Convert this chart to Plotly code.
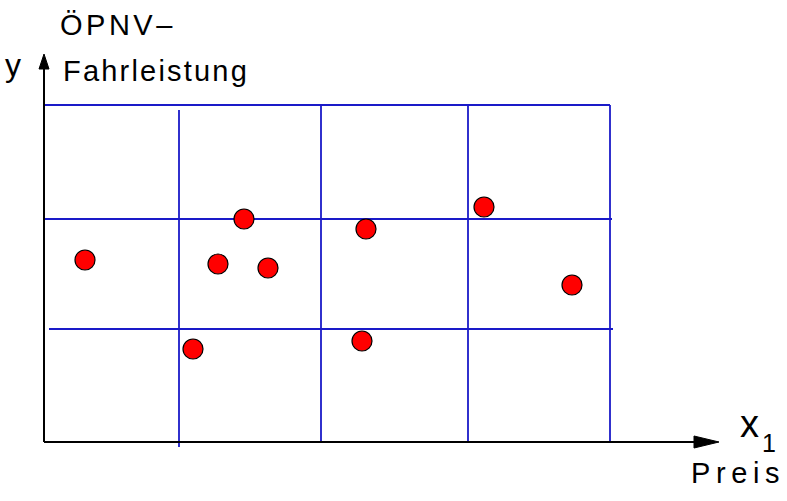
import plotly.graph_objects as go

# ---- data (chart units, origin at the axis crossing) ----
point_x = [41, 174, 224, 200, 149, 322, 440, 528, 318]
point_y = [182, 178, 174, 223, 93, 213, 235, 157, 101]

# blue grid lines
h_lines_y = [337, 223, 113]
h_lines_x0 = [1, 1, 5]
h_lines_x1 = [566, 568, 569]
v_lines_x = [135, 277, 424, 566]
v_lines_y0 = [-5, 0, 0, 0]
v_lines_y1 = [332, 337, 337, 337]

# axes
x_axis_end = 675
y_axis_end = 388

# labels
y_label = "y"
y_title_1 = "ÖPNV–"
y_title_2 = "Fahrleistung"
x_label = "x"
x_sub = "1"
x_title = "Preis"

BLUE = "#1a1ac8"
FONT = "Liberation Sans, Arial, Helvetica, sans-serif"

fig = go.Figure()

# grid lines
gx, gy = [], []
for y, x0, x1 in zip(h_lines_y, h_lines_x0, h_lines_x1):
    gx += [x0, x1, None]
    gy += [y, y, None]
for x, y0, y1 in zip(v_lines_x, v_lines_y0, v_lines_y1):
    gx += [x, x, None]
    gy += [y0, y1, None]
fig.add_trace(go.Scatter(x=gx, y=gy, mode="lines",
                         line=dict(color=BLUE, width=1.8),
                         hoverinfo="skip", showlegend=False))

# axes with arrowheads
ah_y_len, ah_y_half = 15, 5
ah_x_len, ah_x_half = 25, 6
fig.add_trace(go.Scatter(x=[0, 0, None, 0, x_axis_end - ah_x_len],
                         y=[0, y_axis_end - ah_y_len, None, 0, 0],
                         mode="lines", line=dict(color="black", width=2),
                         hoverinfo="skip", showlegend=False))
fig.add_trace(go.Scatter(
    x=[-ah_y_half, ah_y_half, 0, -ah_y_half],
    y=[y_axis_end - ah_y_len, y_axis_end - ah_y_len, y_axis_end, y_axis_end - ah_y_len],
    mode="lines", fill="toself", fillcolor="black",
    line=dict(color="black", width=1), hoverinfo="skip", showlegend=False))
fig.add_trace(go.Scatter(
    x=[x_axis_end - ah_x_len, x_axis_end - ah_x_len, x_axis_end, x_axis_end - ah_x_len],
    y=[-ah_x_half, ah_x_half, 0, -ah_x_half],
    mode="lines", fill="toself", fillcolor="black",
    line=dict(color="black", width=1), hoverinfo="skip", showlegend=False))

# points
fig.add_trace(go.Scatter(x=point_x, y=point_y, mode="markers",
                         marker=dict(size=20, color="#ff0000",
                                     line=dict(color="black", width=1.2)),
                         hoverinfo="skip", showlegend=False))

def lbl(text, x, y, size, spacing=0):
    t = text if not spacing else f"<span style='letter-spacing:{spacing}px'>{text}</span>"
    fig.add_annotation(x=x, y=y, text=t, showarrow=False, xanchor="left",
                       yanchor="bottom", font=dict(family=FONT, size=size, color="black"))

lbl(y_label, -41, 357, 32, 1)
lbl(y_title_1, 14, 399, 29, 3.5)
lbl(y_title_2, 17, 353, 29, 2.2)
lbl(x_label, 694, -5, 38)
lbl(x_sub, 716, -17, 25)
lbl(x_title, 645, -49, 29, 5.6)

fig.update_layout(
    width=787, height=501,
    margin=dict(l=0, r=0, t=0, b=0),
    paper_bgcolor="white", plot_bgcolor="white",
    xaxis=dict(range=[-44, 743], visible=False, fixedrange=True),
    yaxis=dict(range=[-59, 442], visible=False, fixedrange=True),
    hovermode=False,
)

# remove the page's default body margin so the figure sits at the window origin
fig.write_html("out.html", config={"displayModeBar": False, "staticPlot": True},
               post_script="document.body.style.margin='0px';")
